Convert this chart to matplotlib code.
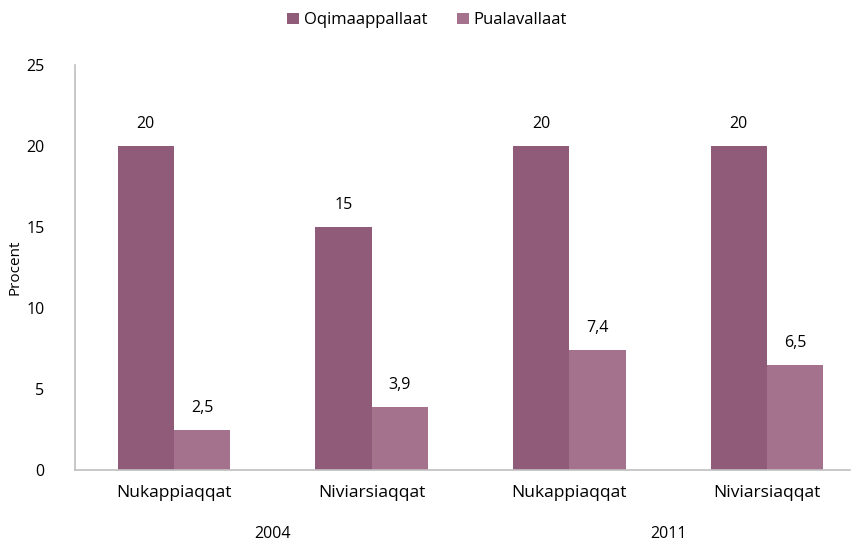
#!/usr/bin/env python

""" grouped bar chart, two-level x axis """

import numpy as np
import matplotlib.pyplot as plt

# data
categories = ['Nukappiaqqat', 'Niviarsiaqqat', 'Nukappiaqqat', 'Niviarsiaqqat']
years = ['2004', '2011']
series_names = ['Oqimaappallaat', 'Pualavallaat']
oqimaappallaat = [20, 15, 20, 20]
pualavallaat = [2.5, 3.9, 7.4, 6.5]

colors = ['#8f5b78', '#a5728d']


def fmt(v):
    # danish decimal comma
    s = ('%g' % v)
    return s.replace('.', ',')


def main():
    plt.rcParams['font.family'] = ['Open Sans', 'DejaVu Sans']
    fig = plt.figure(figsize=(8.54, 5.45), dpi=100)
    ax = fig.add_axes([75 / 854, 1 - 470 / 545, (850 - 75) / 854, (470 - 65) / 545])

    x = np.arange(len(categories))
    width = 0.285

    b1 = ax.bar(x - width / 2, oqimaappallaat, width, color=colors[0],
                label=series_names[0])
    b2 = ax.bar(x + width / 2, pualavallaat, width, color=colors[1],
                label=series_names[1])

    for bars, vals in ((b1, oqimaappallaat), (b2, pualavallaat)):
        for b, v in zip(bars, vals):
            ax.annotate(fmt(v), (b.get_x() + b.get_width() / 2, v),
                        xytext=(0, 10), textcoords='offset points',
                        ha='center', va='bottom', fontsize=11.5)

    ax.set_xlim(-0.5, 3.42)
    ax.set_ylim(0, 25)
    ax.set_yticks([0, 5, 10, 15, 20, 25])
    ax.tick_params(axis='y', length=0, pad=22, labelsize=11.5)
    ax.set_xticks(x)
    ax.set_xticklabels(categories, fontsize=12.5)
    ax.tick_params(axis='x', length=0, pad=11)
    ax.set_ylabel('Procent', fontsize=11, labelpad=3)

    for side in ('top', 'right'):
        ax.spines[side].set_visible(False)
    for side in ('left', 'bottom'):
        ax.spines[side].set_color('#bfbfbf')
        ax.spines[side].set_linewidth(1.2)

    # year labels under each pair of categories
    for i, year in enumerate(years):
        xc = (x[2 * i] + x[2 * i + 1]) / 2
        ax.text(xc, -0.158, year, transform=ax.get_xaxis_transform(),
                ha='center', va='center', fontsize=11.5)

    fig.legend(loc='upper center', bbox_to_anchor=(0.5, 1.005), ncol=2,
               frameon=False, fontsize=12, handlelength=0.7, handleheight=0.7,
               handletextpad=0.3, columnspacing=1.8)

    plt.savefig('out.png', dpi=100)


if __name__ == "__main__":
    main()
